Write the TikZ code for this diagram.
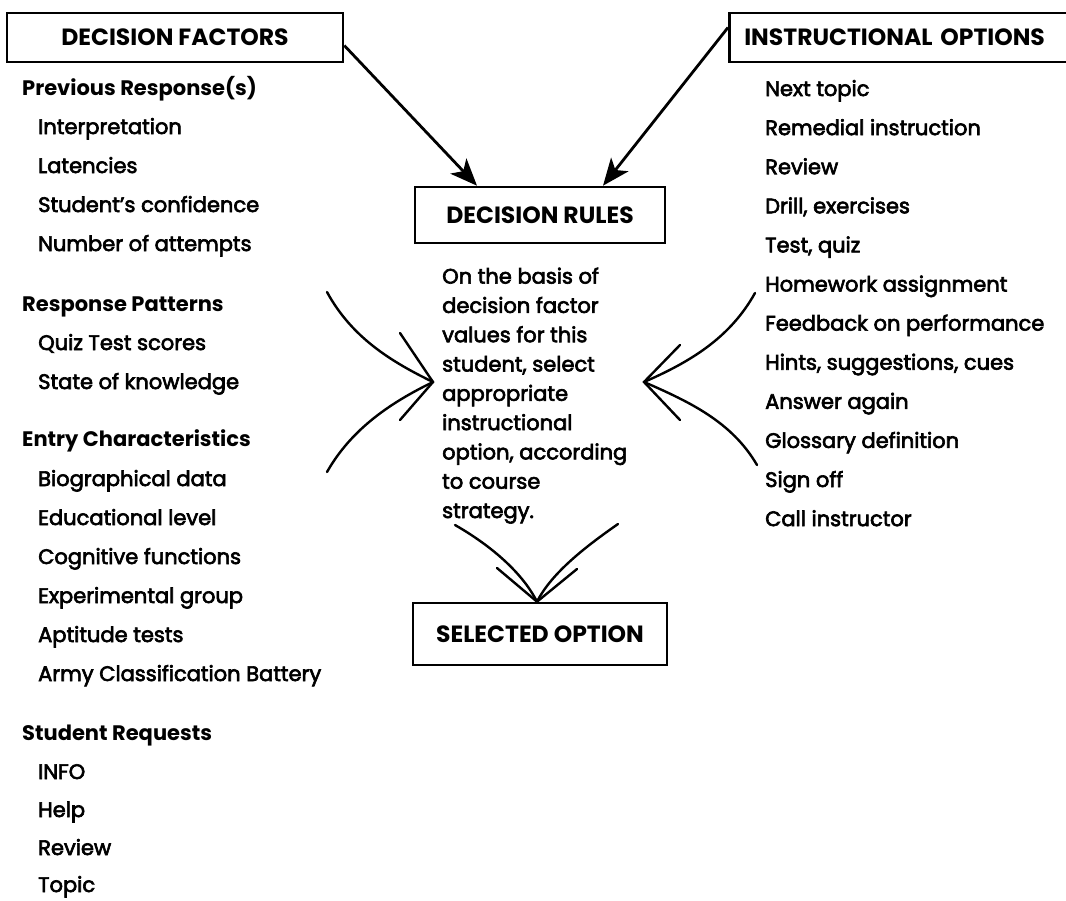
\documentclass[tikz,border=0pt]{standalone}
\usepackage{fontspec}
\usetikzlibrary{arrows.meta}
\setmainfont{Poppins}
\newfontfamily\medium{Poppins}[FakeBold=3]
\newcommand\itemfont{\medium\fontsize{21}{25}\selectfont}
\newcommand\parafont{\medium\fontsize{21}{29.3}\selectfont}
\newcommand\headfont{\bfseries\fontsize{21}{25}\selectfont}
\newcommand\titlefont{\bfseries\fontsize{23.5}{27}\selectfont}
\begin{document}
\begin{tikzpicture}[x=1pt,y=-1pt,
  item/.style={anchor=base west, inner sep=0pt, font=\itemfont},
  head/.style={anchor=base west, inner sep=0pt, font=\headfont},
  titlebox/.style={draw, line width=2.6pt, font=\titlefont, inner sep=0pt},
  flow/.style={line width=2.8pt, -{Stealth[length=27pt,width=22pt,inset=7pt]}},
  bent/.style={line width=2.4pt, line cap=round},
]
\useasboundingbox (0,0) rectangle (1066,900);
\clip (0,0) rectangle (1066,900);

% title boxes
\node[titlebox, minimum width=336pt, minimum height=49pt] (factors) at (175,37.5) {DECISION FACTORS};
\node[titlebox, anchor=west, minimum height=49pt, text width=330pt, inner xsep=15pt, align=left] (options) at (728,37.5) {INSTRUCTIONAL OPTIONS};
\node[titlebox, minimum width=250pt, minimum height=56pt] (rules) at (540,215) {DECISION RULES};
\node[titlebox, minimum width=254pt, minimum height=62pt] (selected) at (540,634) {SELECTED OPTION};

% decision factors
\node[head] (f1) at (22,95) {Previous Response(s)};
\node[item] (f1a) at (38,134) {Interpretation};
\node[item] (f1b) at (38,173) {Latencies};
\node[item] (f1c) at (38,212) {Student’s confidence};
\node[item] (f1d) at (38,251) {Number of attempts};
\node[head] (f2) at (22,311) {Response Patterns};
\node[item] (f2a) at (38,350) {Quiz Test scores};
\node[item] (f2b) at (38,389) {State of knowledge};
\node[head] (f3) at (22,446) {Entry Characteristics};
\node[item] (f3a) at (38,486) {Biographical data};
\node[item] (f3b) at (38,525) {Educational level};
\node[item] (f3c) at (38,564) {Cognitive functions};
\node[item] (f3d) at (38,603) {Experimental group};
\node[item] (f3e) at (38,642) {Aptitude tests};
\node[item] (f3f) at (38,681) {Army Classification Battery};
\node[head] (f4) at (22,740) {Student Requests};
\node[item] (f4a) at (38,779) {INFO};
\node[item] (f4b) at (38,817) {Help};
\node[item] (f4c) at (38,855) {Review};
\node[item] (f4d) at (38,892) {Topic};

% instructional options
\foreach \t [count=\i from 0] in {Next topic, Remedial instruction, Review,
  {Drill, exercises}, {Test, quiz}, Homework assignment, Feedback on performance,
  {Hints, suggestions, cues}, Answer again, Glossary definition, Sign off, Call instructor}
  \node[item] (o\i) at (765,96+39.1*\i) {\t};

% decision rule text (anchored at the baseline of its last line)
\node[item, font=\parafont, align=left] (basis) at (442,518) {%
  On the basis of\\ decision factor\\ values for this\\ student, select\\
  appropriate\\ instructional\\ option, according\\ to course\\ strategy.};

% straight arrows into the rules box
\draw[flow] ([yshift=-8pt]factors.east) -- ([xshift=-63pt]rules.north);
\draw[flow] ([yshift=10pt]options.west) -- ([xshift=63pt]rules.north);

% converging curved arrows
\coordinate (lt) at (433,382);
\coordinate (rt) at (644,382);
\coordinate (la) at (327,292);
\coordinate (lb) at (327,472);
\coordinate (ra) at (755,293);
\coordinate (rb) at (757,465);
\coordinate (ba) at (455,525);
\coordinate (bb) at (618,524);
\coordinate (bt) at ([xshift=-3pt]selected.north);

\draw[bent] (la) .. controls (352,338) and (392,362) .. (lt);
\draw[bent] (lb) .. controls (352,428) and (392,402) .. (lt);
\draw[bent] (400,333) -- (lt) -- (400,420);

\draw[bent] (ra) .. controls (730,338) and (690,362) .. (rt);
\draw[bent] (rb) .. controls (732,422) and (690,402) .. (rt);
\draw[bent] (680,345) -- (rt) -- (680,420);

\draw[bent] (ba) .. controls (490,545) and (522,572) .. (bt);
\draw[bent] (bb) .. controls (588,545) and (552,572) .. (bt);
\draw[bent] (497,568) -- (bt) -- (577,569);
\end{tikzpicture}
\end{document}
